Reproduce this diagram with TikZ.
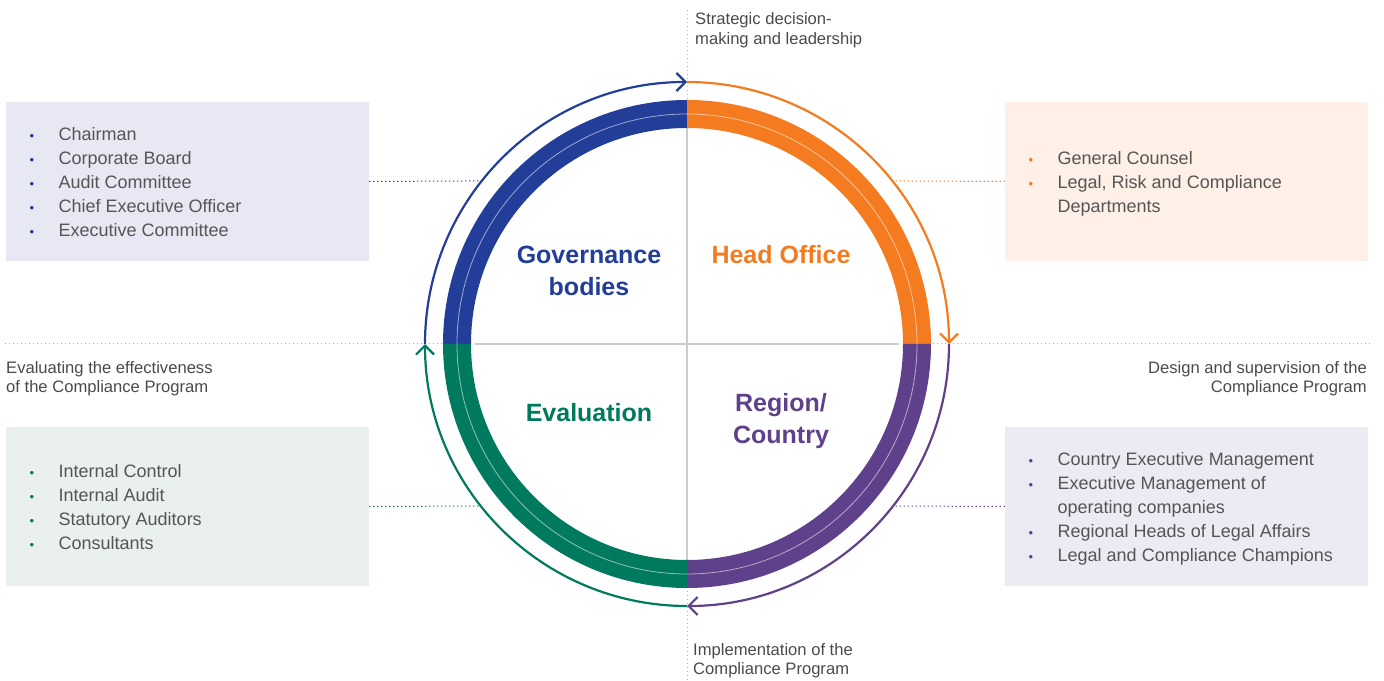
\documentclass[tikz,border=0pt]{standalone}
\usepackage{fontspec}
\setmainfont{Liberation Sans}
\usetikzlibrary{arrows.meta,calc}
\definecolor{cblue}{HTML}{233E99}
\definecolor{corange}{HTML}{F47B20}
\definecolor{cpurple}{HTML}{5E418A}
\definecolor{cgreen}{HTML}{007A5E}
\definecolor{tlfill}{HTML}{E8E8F5}
\definecolor{trfill}{HTML}{FEF0E7}
\definecolor{brfill}{HTML}{ECEBF4}
\definecolor{blfill}{HTML}{EAF0EC}
\definecolor{txt}{HTML}{555555}
\definecolor{cap}{HTML}{4A4A4A}
\definecolor{divgray}{HTML}{CCCCCC}
\definecolor{dotgray}{HTML}{AFAFAF}
\newcommand{\bul}[1]{\makebox[29pt][l]{\textcolor{#1}{\fontsize{13}{13}\selectfont •}}}
\newcommand{\cont}{\hspace*{29pt}}
\begin{document}
\begin{tikzpicture}[x=1pt,y=1pt,
  box/.style={inner sep=0pt, minimum width=363pt, minimum height=159pt, draw=none},
  lst/.style={inner sep=0pt, anchor=west, align=left, text=txt, font=\fontsize{18}{24}\selectfont},
  capt/.style={inner sep=0pt, text=cap, font=\fontsize{16.6}{19.5}\selectfont},
  ttl/.style={inner sep=0pt, align=center, font=\bfseries\fontsize{25}{32}\selectfont},
  arr/.style={line width=2.2pt, -{Straight Barb[length=9pt,width=18pt,line width=2.2pt]}},
  gdot/.style={draw=dotgray, line width=1pt, dash pattern=on 1.2pt off 2.8pt},
  cdot/.style={line width=1pt, dash pattern=on 1.2pt off 2.8pt},
  divline/.style={draw=divgray, line width=1.6pt}
]
\useasboundingbox (0,0) rectangle (1384,680);
\coordinate (C) at (687,336);

% boxes
\node[box, fill=tlfill] (tl) at (187.5,498.5) {};
\node[box, fill=trfill] (tr) at (1186.5,498.5) {};
\node[box, fill=blfill] (bl) at (187.5,173.5) {};
\node[box, fill=brfill] (br) at (1186.5,173.5) {};

% gray dotted axes
\coordinate (topend) at (687,670);
\coordinate (ringtop) at ([shift={(90:244)}]C);
\coordinate (botend) at (687,0);
\coordinate (ringbot) at ([shift={(270:244)}]C);
\coordinate (leftend) at (5,336);
\coordinate (ringleft) at ([shift={(180:244)}]C);
\coordinate (rightend) at (1370,336);
\coordinate (ringright) at ([shift={(0:244)}]C);
\draw[gdot] (topend) -- (ringtop);
\draw[gdot] (botend) -- (ringbot);
\draw[gdot] (leftend) -- (ringleft);
\draw[gdot] (rightend) -- (ringright);

% inner dividers
\coordinate (vt) at ([shift={(90:216)}]C);
\coordinate (vb) at ([shift={(270:216)}]C);
\coordinate (hl) at ([shift={(180:212)}]C);
\coordinate (hr) at ([shift={(0:212)}]C);
\draw[divline] (vt) -- (vb);
\draw[divline] (hl) -- (hr);

% ring sectors
\fill[cblue] ([shift={(90:244)}]C) arc[start angle=90,end angle=180,radius=244] -- ([shift={(180:216)}]C) arc[start angle=180,end angle=90,radius=216] -- cycle;
\fill[corange] ([shift={(0:244)}]C) arc[start angle=0,end angle=90,radius=244] -- ([shift={(90:216)}]C) arc[start angle=90,end angle=0,radius=216] -- cycle;
\fill[cpurple] ([shift={(270:244)}]C) arc[start angle=270,end angle=360,radius=244] -- ([shift={(0:216)}]C) arc[start angle=360,end angle=270,radius=216] -- cycle;
\fill[cgreen] ([shift={(180:244)}]C) arc[start angle=180,end angle=270,radius=244] -- ([shift={(270:216)}]C) arc[start angle=270,end angle=180,radius=216] -- cycle;
\draw[white, opacity=0.55, line width=0.8pt] (C) circle[radius=230];

% arrows around the ring
\draw[arr, cblue] ([shift={(180:262)}]C) arc[start angle=180,end angle=90,radius=262];
\draw[arr, corange] ([shift={(90:262)}]C) arc[start angle=90,end angle=0,radius=262];
\draw[arr, cpurple] ([shift={(0:262)}]C) arc[start angle=0,end angle=-90,radius=262];
\draw[arr, cgreen] ([shift={(270:262)}]C) arc[start angle=270,end angle=180,radius=262];

% coloured dotted connectors
\coordinate (tlc) at ([shift={(141.5:262)}]C);
\coordinate (trc) at ([shift={(38.5:262)}]C);
\coordinate (blc) at ([shift={(218.2:262)}]C);
\coordinate (brc) at ([shift={(321.8:262)}]C);
\draw[cdot, cblue] (tl.east) -- (tlc);
\draw[cdot, corange] (tr.west) -- (trc);
\draw[cdot, cgreen] (bl.east) -- (blc);
\draw[cdot, cpurple] (br.west) -- (brc);

% titles
\node[ttl, text=cblue] (tgov) at (589,409) {Governance\\bodies};
\node[ttl, text=corange] (thead) at (781,425) {Head Office};
\node[ttl, text=cgreen] (teval) at (589,267) {Evaluation};
\node[ttl, text=cpurple] (treg) at (781,259) {Region/\\Country};

% captions
\node[capt, anchor=west, align=left] (ctop) at (695,650) {Strategic decision-\\making and leadership};
\node[capt, anchor=west, align=left] (cleft) at (6,301.5) {Evaluating the effectiveness\\of the Compliance Program};
\node[capt, anchor=east, align=right] (cright) at (1367,301.5) {Design and supervision of the\\Compliance Program};
\node[capt, anchor=west, align=left] (cbot) at (693,19.5) {Implementation of the\\Compliance Program};

% lists
\node[lst] (ltl) at (29.5,498) {\bul{cblue}Chairman\\\bul{cblue}Corporate Board\\\bul{cblue}Audit Committee\\\bul{cblue}Chief Executive Officer\\\bul{cblue}Executive Committee};
\node[lst] (ltr) at (1028.5,496) {\bul{corange}General Counsel\\\bul{corange}Legal, Risk and Compliance\\\cont Departments};
\node[lst] (lbl) at (29.5,172.5) {\bul{cgreen}Internal Control\\\bul{cgreen}Internal Audit\\\bul{cgreen}Statutory Auditors\\\bul{cgreen}Consultants};
\node[lst] (lbr) at (1028.5,171) {\bul{cpurple}Country Executive Management\\\bul{cpurple}Executive Management of\\\cont operating companies\\\bul{cpurple}Regional Heads of Legal Affairs\\\bul{cpurple}Legal and Compliance Champions};
\end{tikzpicture}
\end{document}
